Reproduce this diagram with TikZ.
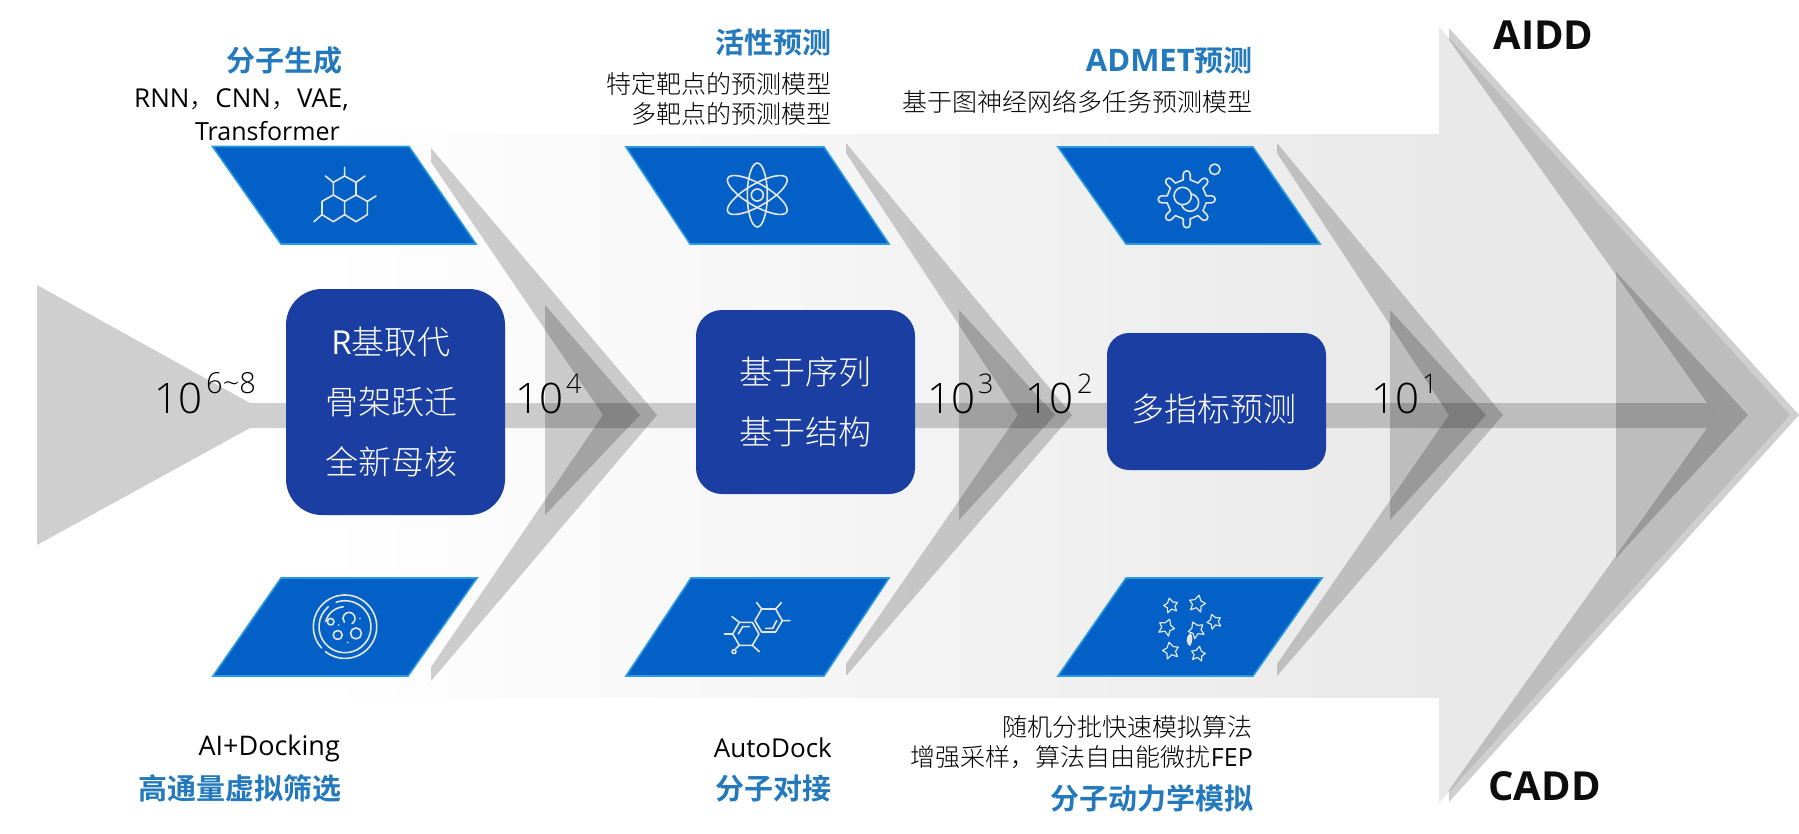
\documentclass[tikz,border=0pt]{standalone}
\usepackage{fontspec}
\setmainfont{Open Sans}
\newfontfamily\cjk{Noto Sans CJK SC}
\newfontfamily\cjkb{Noto Sans CJK SC Bold}
\newfontfamily\cjkl{Noto Sans CJK SC Light}
\newfontfamily\lat{Open Sans}
\newfontfamily\latl{Open Sans Light}
\definecolor{boxblue}{HTML}{1A3EA2}
\definecolor{parafill}{HTML}{0260C6}
\definecolor{paraline}{HTML}{2B9BE0}
\definecolor{headblue}{HTML}{2279BD}
\definecolor{icon}{HTML}{E6E6E6}
\definecolor{bandend}{HTML}{E9E9E9}
\tikzset{
  x=1pt,y=-1pt,
  greyshape/.style={fill=black,fill opacity=.19,draw=none},
  para/.style={fill=parafill,draw=paraline,line width=1.6pt,line join=miter},
  rbox/.style={fill=boxblue,draw=none},
  boxtext/.style={text=white,font=\cjkl\fontsize{33}{33}\selectfont,inner sep=0pt,anchor=center},
  head/.style={text=headblue,font=\cjkb\fontsize{29}{29}\selectfont,inner sep=0pt,anchor=east},
  sub/.style={text=black,font=\cjkl\fontsize{25}{25}\selectfont,inner sep=0pt,anchor=east},
  latsub/.style={text=black,font=\lat\fontsize{26}{26}\selectfont,inner sep=0pt,anchor=east},
  ten/.style={text=black,font=\latl\fontsize{42}{42}\selectfont,inner sep=0pt,anchor=base west},
  sup/.style={text=black,font=\latl\fontsize{27}{27}\selectfont,inner sep=0pt,anchor=base west},
  tag/.style={text=black!95,font=\lat\bfseries\fontsize{40}{40}\selectfont,inner sep=0pt,anchor=center},
  ic/.style={draw=icon,line width=1.6pt,fill=none,line cap=round,line join=round},
  zoomed/.style={x=.33333pt,y=-.33333pt},
}
\newcommand{\starat}[4]{% x y r rot
  \draw[ic,line width=1.2pt,rotate around={#4:(#1,#2)}]
    (#1,#2-#3) -- (#1+.4*#3,#2-.35*#3) -- (#1+#3,#2-.15*#3) -- (#1+.55*#3,#2+.3*#3) -- (#1+.65*#3,#2+#3)
    -- (#1,#2+.6*#3) -- (#1-.65*#3,#2+#3) -- (#1-.55*#3,#2+.3*#3) -- (#1-#3,#2-.15*#3) -- (#1-.4*#3,#2-.35*#3) -- cycle;}
\begin{document}
\begin{tikzpicture}
\useasboundingbox (0,0) rectangle (1799,833);
% background arrow
\shade[left color=white,right color=bandend,draw=none] (320,134) rectangle (1439.5,697);
\fill[bandend] (1439,134) -- (1439,27) -- (1790,415) -- (1439,803) -- (1439,697) -- cycle;
% left pointer + bar
\path[greyshape] (37,285) -- (250,403) -- (1707,403) -- (1716,415.5) -- (1707,428) -- (250,428) -- (37,545) -- cycle;
% chevrons
\path[greyshape] (431,148) -- (657,415) -- (431,681) -- (431,667) -- (603,415) -- (431,162) -- cycle;
\path[greyshape] (545,305) -- (640,415) -- (545,515) -- cycle;
\path[greyshape] (846,143) -- (1072,415) -- (846,676) -- (846,664) -- (1018,415) -- (846,153) -- cycle;
\path[greyshape] (959,310) -- (1055,415) -- (959,520) -- cycle;
\path[greyshape] (1277,143) -- (1503,415) -- (1277,676) -- (1277,664) -- (1449,415) -- (1277,153) -- cycle;
\path[greyshape] (1390,310) -- (1486,415) -- (1390,520) -- cycle;
\path[greyshape] (1449,28) -- (1799,415) -- (1449,802) -- (1449,790) -- (1716,415.5) -- (1449,40) -- cycle;
\path[greyshape] (1616,272) -- (1748,415) -- (1616,558) -- cycle;
% rounded boxes
\node[rbox,rounded corners=36pt,minimum width=219pt,minimum height=226pt,inner sep=0pt] (b1) at (395.5,402) {};
\node[rbox,rounded corners=26pt,minimum width=219pt,minimum height=184pt,inner sep=0pt] (b2) at (805.5,402) {};
\node[rbox,rounded corners=22pt,minimum width=219pt,minimum height=137pt,inner sep=0pt] (b3) at (1216.5,401.5) {};
\node[boxtext] (t11) at (391,342) {{\lat R}基取代};
\node[boxtext] (t12) at (391,402) {骨架跃迁};
\node[boxtext] (t13) at (391,462) {全新母核};
\node[boxtext] (t21) at (805,372) {基于序列};
\node[boxtext] (t22) at (805,432) {基于结构};
\node[boxtext] (t31) at (1214,409) {多指标预测};
% parallelograms
\draw[para] (212.5,146.5) -- (409,146.5) -- (476,244) -- (281,244) -- cycle;
\draw[para] (626,147) -- (824,147) -- (889,244) -- (690,244) -- cycle;
\draw[para] (1058,147) -- (1253,147) -- (1320,244) -- (1126,244) -- cycle;
\draw[para] (281,578) -- (477,578) -- (408,676) -- (213,676) -- cycle;
\draw[para] (691,578) -- (889,578) -- (824,676) -- (626,676) -- cycle;
\draw[para] (1126,578) -- (1322,578) -- (1253,676) -- (1058,676) -- cycle;
% icon 1: hexagons
\begin{scope}[shift={(200,140)},zoomed]
\draw[ic] (400,127) -- (434,108) -- (468,127) -- (468,165) -- (502,184) -- (502,224) -- (468,245) -- (434,224) -- (400,245) -- (366,224) -- (366,184) -- (400,165) -- cycle;
\draw[ic] (400,165) -- (434,184) -- (468,165) (434,184) -- (434,224);
\draw[ic] (434,108) -- (434,82) (400,127) -- (376,108) (468,127) -- (495,108) (502,184) -- (528,168) (366,224) -- (342,245);
\end{scope}
% icon 2: atom
\begin{scope}[shift={(757.3,195)}]
\draw[ic] (0,0) circle (6pt);
\draw[ic] (0,0) ellipse (10pt and 32pt);
\draw[ic,rotate=60] (0,0) ellipse (11pt and 34pt);
\draw[ic,rotate=-60] (0,0) ellipse (11pt and 34pt);
\end{scope}
% icon 3: gear
\begin{scope}[shift={(1186.7,199.3)}]
\foreach \a in {0,45,...,315}{
  \draw[ic,rotate=\a] (-3.5,-19.5) -- (-3.5,-25) arc (180:0:3.5pt) -- (3.5,-19.5) .. controls (7,-17) .. (11.3,-16.3);}
\draw[ic] (3.3,3.3) circle (8.7pt);
\draw[ic,fill=parafill] (-4,-3.3) circle (8.7pt);
\draw[ic] (28,-30) circle (5.3pt);
\end{scope}
% icon 4: dish
\begin{scope}[shift={(345,626.7)}]
\draw[ic] ({31.7*cos(232)},{-31.7*sin(232)}) arc (232:582:31.7pt);
\draw[ic] ({26*cos(130)},{-26*sin(130)}) arc (130:470:26pt);
\draw[ic] ({20*cos(95)},{-20*sin(95)}) arc (95:165:20pt);
\draw[ic] ({6*cos(-60)+4},{-6*sin(-60)-8.3}) arc (-60:220:6pt);
\draw[ic] (-14.3,-5) circle (3.3pt);
\draw[ic] (-7.3,8.3) circle (4.5pt);
\draw[ic] (11,6.7) circle (5.5pt);
\fill[icon] (-6.3,-1.7) circle (.9pt) (15,-8.3) circle (.9pt) (2.7,15.7) circle (.9pt);
\end{scope}
% icon 5: molecule
\begin{scope}[shift={(620,570)},zoomed]
\draw[ic] (358,157) -- (397,157) -- (417,192) -- (397,226) -- (358,226) -- (338,192) -- cycle;
\draw[ic] (425,117) -- (467,117) -- (487,152) -- (467,186) -- (425,186) -- (405,152) -- cycle;
\draw[ic] (355,192) -- (368,170) -- (388,170) (437,175) -- (458,175) -- (470,152);
\draw[ic] (358,157) -- (336,140) (338,192) -- (313,192) (358,226) -- (347,236) (397,226) -- (418,245);
\draw[ic] (425,117) -- (410,98) (467,117) -- (484,98) (487,152) -- (510,152);
\draw[ic] (342,245) circle (2pt);
\end{scope}
% icon 6: stars
\starat{1170.7}{605}{7}{12}
\starat{1197.3}{603}{8}{-12}
\starat{1214}{621}{7}{20}
\starat{1166.7}{626.7}{8}{-22}
\starat{1196}{629.3}{8}{25}
\starat{1170.7}{650}{8}{12}
\starat{1198.3}{653.3}{7}{-10}
\fill[icon] (1190.5,633) .. controls (1193,636) and (1193,642) .. (1190,646) .. controls (1187,645) and (1184,638) .. (1190.5,633);
% texts
\node[head] (h1) at (343,61) {分子生成};
\node[latsub,font=\lat\fontsize{26}{26}\selectfont] (s1a) at (349,100) {RNN{\cjkl ，}CNN{\cjkl ，}VAE,};
\node[latsub,font=\lat\fontsize{25}{25}\selectfont] (s1b) at (340,131) {Transformer};
\node[head] (h2) at (832,43) {活性预测};
\node[sub] (s2a) at (832,84) {特定靶点的预测模型};
\node[sub] (s2b) at (832,114) {多靶点的预测模型};
\node[head] (h3) at (1253,61) {{\lat\bfseries\fontsize{31}{31}\selectfont ADMET}预测};
\node[sub] (s3) at (1253,102) {基于图神经网络多任务预测模型};
\node[latsub,font=\lat\fontsize{27}{27}\selectfont] (s4) at (340,748) {AI+Docking};
\node[head] (h4) at (342,788) {高通量虚拟筛选};
\node[latsub] (s5) at (832,748) {AutoDock};
\node[head] (h5) at (832,788) {分子对接};
\node[sub] (s6a) at (1253,727) {随机分批快速模拟算法};
\node[sub] (s6b) at (1253,757) {增强采样，算法自由能微扰{\lat FEP}};
\node[head] (h6) at (1254,798) {分子动力学模拟};
\node[tag] (aidd) at (1543.5,35) {AIDD};
\node[tag] (cadd) at (1544.5,786) {CADD};
% powers of ten
\node[ten] (p1) at (154,413) {10};
\node[sup,font=\latl\fontsize{29}{29}\selectfont] (q1) at (206,393) {6\textasciitilde8};
\node[ten] (p2) at (515,413) {10};
\node[sup] (q2) at (566,393) {4};
\node[ten] (p3) at (927,413) {10};
\node[sup] (q3) at (978,393) {3};
\node[ten] (p4) at (1025,413) {10};
\node[sup] (q4) at (1077,393) {2};
\node[ten] (p5) at (1371,413) {10};
\node[sup] (q5) at (1422,393) {1};
\end{tikzpicture}
\end{document}
